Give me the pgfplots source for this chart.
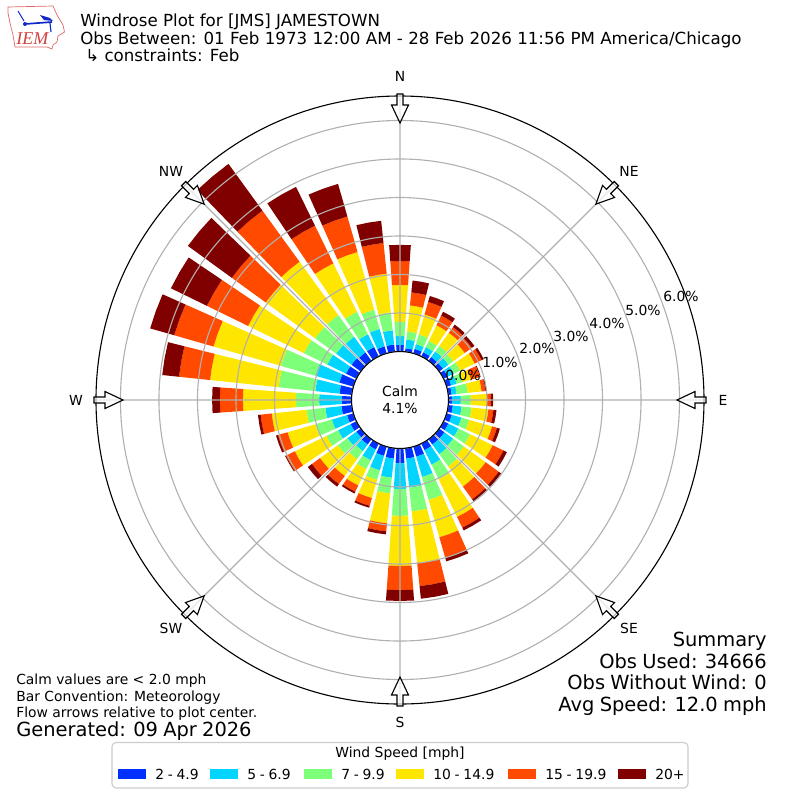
\documentclass[border=0pt]{standalone}
\usepackage{fontspec}
\setmainfont{DejaVu Sans}
\usepackage{pgfplots}
\pgfplotsset{compat=1.18}
\usepgfplotslibrary{polar}
\definecolor{wa}{HTML}{0030FF}
\definecolor{wb}{HTML}{00D4FF}
\definecolor{wc}{HTML}{7DFF7A}
\definecolor{wd}{HTML}{FFE600}
\definecolor{we}{HTML}{FF4A00}
\definecolor{wf}{HTML}{800000}
\definecolor{gridgray}{HTML}{B0B0B0}
\definecolor{logored}{HTML}{E06666}
\definecolor{logoblue}{HTML}{1028C8}
\newcommand\fs[1]{\fontsize{#1}{#1}\selectfont}
\newcommand\tight{\spaceskip=0.27em\relax}
\newcommand\seg[4]{%
  \pgfmathsetmacro\aL{90-#1-4}\pgfmathsetmacro\aM{90-#1}\pgfmathsetmacro\aR{90-#1+4}%
  \edef\temp{\noexpand\addplot[draw=none,fill=#2] coordinates {(\aL,#3)(\aM,#3)(\aR,#3)(\aR,#4)(\aM,#4)(\aL,#4)} --cycle;}\temp}
\begin{document}
\begin{tikzpicture}[x=0.72pt,y=-0.72pt]
\useasboundingbox (0,0) rectangle (800,800);
\begin{polaraxis}[
  at={(288pt,-288pt)},anchor=center,
  scale only axis,width=437.76pt,height=437.76pt,
  y coord trafo/.code={\pgfmathparse{#1+1.26}},
  ymin=-1.26,ymax=6.636,
  xtick={0,45,...,315},ytick={0,1,2,3,4,5,6},
  xticklabels={},yticklabels={},
  major tick length=0pt,
  grid=major,
  major grid style={gridgray,line width=0.8pt},
  axis line style={black,line width=0.8pt},
  y axis line style={draw=none},
  axis on top,
]
\foreach \dd/\ra/\rb/\rc/\rd/\re/\rf in {
0/.17/.40/.77/1.73/2.35/2.77,
10/.09/.32/.53/1.21/1.55/1.86,
20/.12/.25/.51/1.05/1.39/1.55,
30/.12/.27/.45/.90/1.18/1.29,
40/.12/.30/.48/.90/1.08/1.16,
50/.12/.30/.45/.82/1.05/1.13,
60/.12/.30/.48/.90/1.10/1.16,
70/.12/.27/.43/.66/.90/.92,
80/.09/.22/.51/.87/.97/1.00,
90/.09/.32/.58/1.00/1.10/1.16,
100/.12/.35/.61/1.05/1.18/1.26,
110/.14/.40/.61/1.23/1.36/1.44,
120/.14/.43/.77/1.42/1.73/1.83,
130/.17/.45/.79/1.49/1.91/1.99,
140/.17/.48/.87/1.52/1.93/2.01,
150/.19/.61/1.03/2.12/2.43/2.51,
160/.27/.82/1.44/2.45/3.00/3.10,
170/.27/1.03/1.65/3.00/3.60/3.93,
180/.38/1.05/1.75/3.05/3.68/3.96,
190/.27/.77/1.18/1.96/2.17/2.25,
200/.25/.64/.90/1.39/1.60/1.65,
210/.17/.48/.74/1.21/1.39/1.44,
220/.17/.38/.64/1.18/1.44/1.52,
230/.14/.43/.74/1.31/1.57/1.70,
240/.17/.53/.87/1.78/2.04/2.06,
250/.17/.58/1.03/1.78/2.04/2.09,
260/.27/.69/1.18/2.09/2.38/2.45,
270/.25/.84/1.44/2.82/3.42/3.62,
280/.32/.95/1.91/3.70/4.51/4.95,
290/.38/1.03/1.96/3.78/4.84/5.49,
300/.30/.84/1.52/3.13/4.32/5.36,
310/.30/.79/1.47/3.05/4.14/5.55,
320/.27/.77/1.47/3.18/4.82/6.32,
330/.27/.64/1.29/2.69/3.78/4.90,
340/.19/.66/1.18/2.74/3.70/4.58,
350/.19/.56/1.03/2.04/2.84/3.42}{%
  \seg{\dd}{wa}{0}{\ra}\seg{\dd}{wb}{\ra}{\rb}\seg{\dd}{wc}{\rb}{\rc}%
  \seg{\dd}{wd}{\rc}{\rd}\seg{\dd}{we}{\rd}{\re}\seg{\dd}{wf}{\re}{\rf}%
}
\end{polaraxis}
% centre hole
\fill[white] (400,400) circle[radius=48.5];
\draw[black,line width=0.8pt] (400,400) circle[radius=48.5];
\node[align=center,inner sep=0,font=\fs{10}] at (400,399.5) {Calm\\[2pt]4.1\%};
% direction arrows
\foreach \t in {0,45,...,315}{
  \begin{scope}[shift={(400,400)},rotate=\t]
    \draw[line width=0.8pt,fill=white,fill opacity=0.7,line join=miter]
      (-3,-306)--(3,-306)--(3,-295)--(8.5,-295)--(0,-277)--(-8.5,-295)--(-3,-295)--cycle;
  \end{scope}}
% direction labels
\foreach \p/\s in {{400,76}/N,{629,171}/NE,{723,400}/E,{629,628}/SE,{400,722}/S,{171,628}/SW,{76,400}/W,{171,171}/NW}
  \node[font=\fs{10},inner sep=0] at (\p) {\s};
% radial labels
\foreach \p/\s in {{463,375}/0.0,{500,362}/1.0,{537,348}/2.0,{571,336}/3.0,{607,323}/4.0,{643,310}/5.0,{681,296}/6.0}
  \node[font=\fs{10},inner sep=0] at (\p) {\s\%};
% titles
\node[anchor=base west,inner sep=0,font=\fs{12}] at (80,26.5) {Windrose Plot for [JMS] JAMESTOWN};
\node[anchor=base west,inner sep=0,font=\fs{12}] at (80,44.5) {Obs Between: 01 Feb 1973 12:00 AM - 28 Feb 2026 11:56 PM America/Chicago};
\node[anchor=base west,inner sep=0,font=\fs{12}] at (85,61.5) {↳ constraints: Feb};
% footer
\node[anchor=base west,inner sep=0,font=\fs{10}] at (16,684) {Calm values are < 2.0 mph};
\node[anchor=base west,inner sep=0,font=\fs{10}] at (16,701) {Bar Convention: Meteorology};
\node[anchor=base west,inner sep=0,font=\fs{10}] at (16,717) {Flow arrows relative to plot center.};
\node[anchor=base west,inner sep=0,font=\fs{14}\tight] at (16,736) {Generated: 09 Apr 2026};
% summary
\node[anchor=base east,inner sep=0,font=\fs{14}\tight] at (767,646) {Summary};
\node[anchor=base east,inner sep=0,font=\fs{14}\tight] at (767,668) {Obs Used: 34666};
\node[anchor=base east,inner sep=0,font=\fs{14}\tight] at (767,689) {Obs Without Wind: 0};
\node[anchor=base east,inner sep=0,font=\fs{14}\tight] at (767,711) {Avg Speed: 12.0 mph};
% legend
\draw[draw=black!20,fill=white,rounded corners=3pt,line width=0.8pt] (112,742.5) rectangle (688,788);
\node[font=\fs{10},inner sep=0,anchor=base] at (400,757) {Wind Speed [mph]};
\foreach \x/\tx/\c/\s in {118/155/wa/2 - 4.9,210/247/wb/5 - 6.9,304/341/wc/7 - 9.9,396/433/wd/10 - 14.9,508/545/we/15 - 19.9,618/655/wf/20+}{
  \fill[\c] (\x,769) rectangle (\x+28,779);
  \node[font=\fs{10}\tight,inner sep=0,anchor=base west] at (\tx,779) {\s};
}
% logo
\draw[logored,line width=0.5pt,fill=white] (8,7)--(53,6)--(57,15)--(63,25)--(64.5,32)--(58,36)--(57,42)--(53,45)--(52,49)--(47,47)--(15,47)--(13,35)--(10,23)--(8,13)--cycle;
\draw[logoblue,line width=1.2pt] (25,24)--(52,22);
\draw[logoblue,line width=0.7pt] (18,11)--(24,21);
\fill[logoblue] (40,15)--(50,18)--(53,21)--(44,20)--cycle;
\draw[logoblue,line width=0.8pt] (50,23)--(51,32);
\fill[logoblue] (25,24) circle[radius=2];
\node[anchor=base west,inner sep=0,text=logored!70!red!90!black,font={\fs{13}\fontspec{Liberation Serif}\itshape}] at (16,44) {IEM};
\end{tikzpicture}
\end{document}
